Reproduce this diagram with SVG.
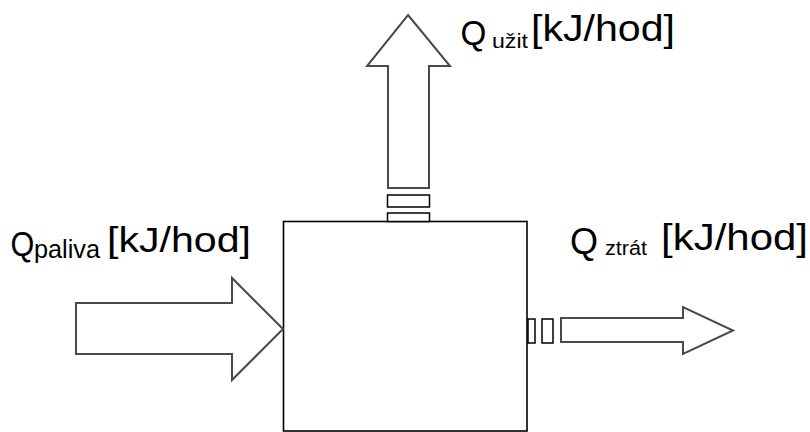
<svg xmlns="http://www.w3.org/2000/svg" width="810" height="432" viewBox="0 0 810 432">
  <style>
    .box { fill: #ffffff; stroke: #000000; stroke-width: 1.6; }
    .arrow { fill: #ffffff; stroke: #4a4a4a; stroke-width: 2; stroke-linejoin: miter; }
    .joint { fill: #ffffff; stroke: #000000; stroke-width: 1.5; }
    .lbl { font-family: "Liberation Sans", Arial, sans-serif; fill: #000000; }
  </style>
  <rect width="810" height="432" fill="#ffffff"/>

  <g id="system">
    <rect class="box" x="283.5" y="221.5" width="243.5" height="209.5"/>
  </g>

  <g id="connectors">
    <g id="flow-in">
      <polygon class="arrow" points="76,303 232,303 232,278 283,329 232,380 232,354 76,354"/>
    </g>
    <g id="flow-useful">
      <polygon class="arrow" points="408,15 450,66 429,66 429,188 388,188 388,66 367,66"/>
      <rect class="joint" x="387.5" y="195" width="42" height="12"/>
      <rect class="joint" x="387.5" y="213" width="42" height="8.5"/>
    </g>
    <g id="flow-loss">
      <rect class="joint" x="528" y="319" width="7" height="24"/>
      <rect class="joint" x="542" y="319" width="11" height="24"/>
      <polygon class="arrow" points="561,318 683,318 683,307 733,330.5 683,354 683,342 561,342"/>
    </g>
  </g>

  <g id="label-in">
    <text class="lbl" transform="translate(12,256) scale(0.85,1)" x="-1.7" y="0" font-size="36">Q</text>
    <text class="lbl" x="34" y="258" font-size="25" textLength="66" lengthAdjust="spacingAndGlyphs">paliva</text>
    <text class="lbl" x="107" y="252" font-size="35" textLength="144" lengthAdjust="spacingAndGlyphs">[kJ/hod]</text>
  </g>

  <g id="label-useful">
    <text class="lbl" transform="translate(462,45) scale(0.95,1)" x="-1.7" y="0" font-size="35">Q</text>
    <text class="lbl" x="492" y="48" font-size="21" textLength="36" lengthAdjust="spacingAndGlyphs">užit</text>
    <text class="lbl" x="531" y="41" font-size="36" textLength="144" lengthAdjust="spacingAndGlyphs">[kJ/hod]</text>
  </g>

  <g id="label-loss">
    <text class="lbl" x="570" y="254" font-size="36">Q</text>
    <text class="lbl" x="605" y="255" font-size="20" textLength="42" lengthAdjust="spacingAndGlyphs">ztrát</text>
    <text class="lbl" x="661" y="250" font-size="36" textLength="147" lengthAdjust="spacingAndGlyphs">[kJ/hod]</text>
  </g>
</svg>
